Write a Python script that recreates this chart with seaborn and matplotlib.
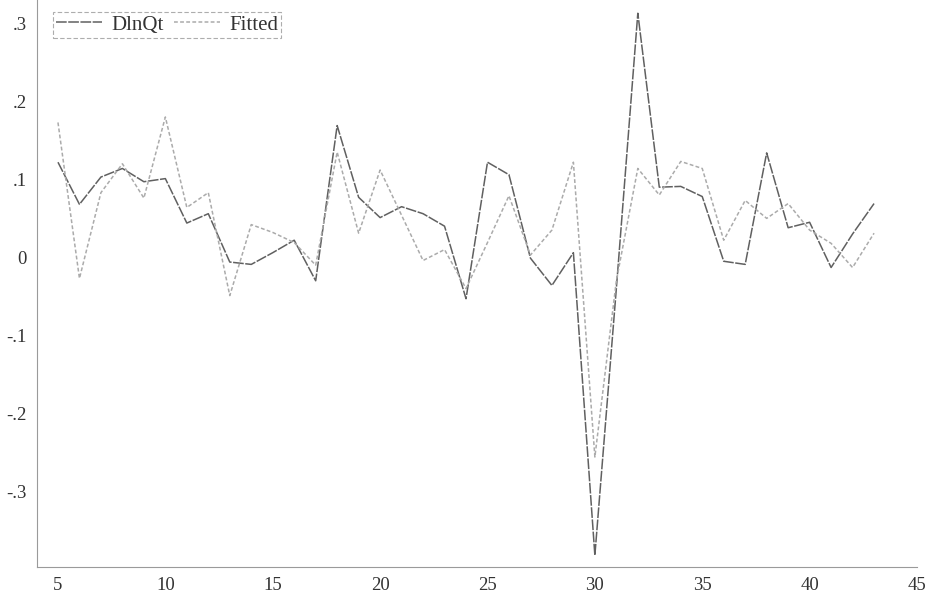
import numpy as np
import pandas as pd
import seaborn as sns
import matplotlib.pyplot as plt
from matplotlib.ticker import MultipleLocator, FuncFormatter

# observations 5..43
t = list(range(5, 44))
dlnqt = [0.122, 0.068, 0.103, 0.114, 0.097, 0.101, 0.044, 0.056, -0.006, -0.009,
         0.006, 0.022, -0.030, 0.169, 0.077, 0.051, 0.065, 0.056, 0.040, -0.053,
         0.122, 0.106, -0.001, -0.036, 0.006, -0.382, -0.040, 0.313, 0.090, 0.091,
         0.078, -0.005, -0.009, 0.134, 0.038, 0.045, -0.013, 0.030, 0.069]
fitted = [0.173, -0.027, 0.083, 0.120, 0.076, 0.180, 0.064, 0.083, -0.049, 0.042,
          0.032, 0.019, -0.010, 0.135, 0.031, 0.112, 0.054, -0.004, 0.010, -0.040,
          0.019, 0.079, 0.003, 0.035, 0.122, -0.256, -0.030, 0.114, 0.080, 0.123,
          0.114, 0.022, 0.073, 0.050, 0.069, 0.035, 0.018, -0.013, 0.031]

df = pd.DataFrame({"t": t, "DlnQt": dlnqt, "Fitted": fitted})

sns.set_style("white")
plt.rcParams['font.family'] = ['Liberation Serif', 'DejaVu Serif']

fig = plt.figure(figsize=(9.3, 5.98), dpi=100)
ax = fig.add_axes([36.5 / 930, 31 / 598, (917 - 36.5) / 930, 567 / 598])

sns.lineplot(data=df, x="t", y="DlnQt", ax=ax, color="#606060", lw=1.1,
             dashes=False, label="DlnQt")
sns.lineplot(data=df, x="t", y="Fitted", ax=ax, color="#ababab", lw=1.1,
             label="Fitted")
ax.lines[1].set_dashes((2.5, 1.5))
ax.lines[0].set_dashes((7, 1))

ax.set_xlim(4, 45)
ax.set_ylim(-0.397, 0.33)
ax.set_xlabel("")
ax.set_ylabel("")

ax.xaxis.set_major_locator(MultipleLocator(5))
ax.yaxis.set_major_locator(MultipleLocator(0.1))
ax.yaxis.set_minor_locator(MultipleLocator(0.025))


def short(v, pos):
    if abs(v) < 1e-9:
        return "0"
    s = "%.1f" % v
    return s.replace("0.", ".")


ax.yaxis.set_major_formatter(FuncFormatter(short))
ax.tick_params(axis="both", which="major", direction="in", length=4,
               width=0.7, color="#888888", labelsize=13.5, labelcolor="#333333")
ax.tick_params(axis="y", which="minor", direction="in", length=2,
               width=0.6, color="#aaaaaa")
ax.tick_params(axis="x", pad=7)
ax.tick_params(axis="y", pad=7)

for side in ["top", "right"]:
    ax.spines[side].set_visible(False)
for side in ["left", "bottom"]:
    ax.spines[side].set_color("#9a9a9a")
    ax.spines[side].set_linewidth(0.8)
    ax.spines[side].set_linestyle((0, (4, 1)))

leg = ax.legend(loc="upper left", bbox_to_anchor=(53 / 930, 1 - 12 / 598),
                bbox_transform=fig.transFigure, ncol=2, fontsize=15,
                frameon=True, fancybox=False, borderaxespad=0, borderpad=0.15,
                handlelength=2.2, handletextpad=0.45, columnspacing=0.5)
leg.get_frame().set_edgecolor("#999999")
leg.get_frame().set_linewidth(0.8)
leg.get_frame().set_linestyle((0, (4, 2)))
for txt in leg.get_texts():
    txt.set_color("#333333")

fig.savefig("out.png", dpi=100)
